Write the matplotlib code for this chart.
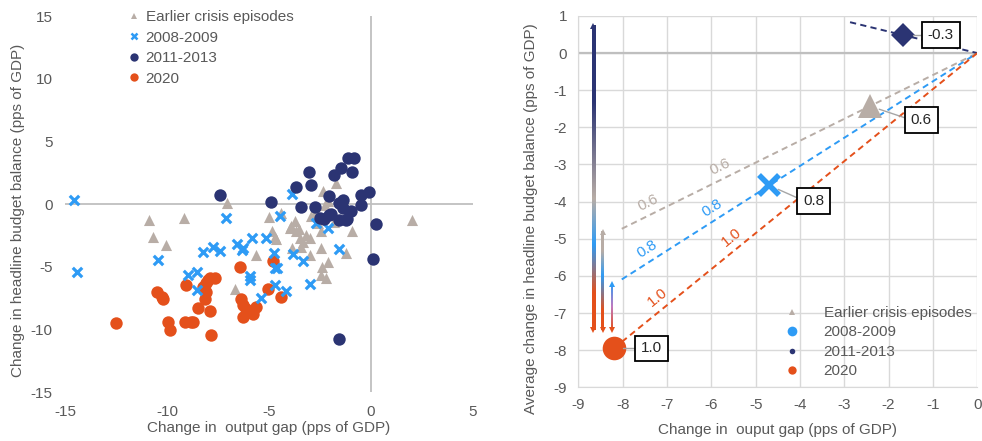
import numpy as np
import matplotlib
matplotlib.use("Agg")
import matplotlib.pyplot as plt
from matplotlib.colors import to_rgb
from matplotlib.lines import Line2D

plt.rcParams['font.family'] = ['Liberation Sans', 'DejaVu Sans']
plt.rcParams['axes.unicode_minus'] = False

# ---------------- left panel: individual country episodes ----------------
series_names = ["Earlier crisis episodes", "2008-2009", "2011-2013", "2020"]

earlier_gap = [-10.9, -10.7, -10.05, -9.17, -7.08, -6.68, -5.62, -5.0, -4.84, -4.72, -4.64,
               -4.4, -3.99, -3.86, -3.75, -3.66, -3.5, -3.34, -3.42, -3.21, -3.01, -3.01,
               -2.93, -2.69, -2.61, -2.44, -2.44, -2.39, -2.44, -2.2, -2.36, -2.28, -2.12,
               -1.74, -1.8, -1.22, -0.93, 2.0, -3.92, -3.52, -2.12]
earlier_bal = [-1.26, -2.59, -3.26, -1.12, 0.08, -6.74, -4.06, -1.07, -2.19, -2.59, -2.78,
               -0.72, -1.93, -3.53, -1.39, -2.19, -2.73, -2.99, -3.4, -2.46, -2.73, -4.06,
               -0.99, -0.59, -1.52, -2.19, -3.53, -5.0, -5.67, -5.94, 1.02, -0.05, 0.21,
               1.68, -1.4, -3.93, -2.19, -1.26, -1.76, -2.03, -4.6]

gfc_gap = [-14.58, -14.41, -10.42, -8.96, -8.55, -8.55, -8.26, -7.74, -7.41, -7.12, -6.56,
           -6.3, -6.27, -5.81, -5.91, -5.91, -5.41, -5.13, -4.77, -4.72, -4.61, -4.72, -4.45,
           -4.15, -3.86, -3.83, -3.34, -3.01, -2.72, -2.12, -1.58]
gfc_bal = [0.35, -5.45, -4.47, -5.67, -5.45, -6.87, -3.8, -3.4, -3.74, -1.12, -3.18,
           -3.66, -3.53, -2.67, -5.72, -6.07, -7.46, -2.67, -3.93, -5.13, -5.08, -6.42, -0.99,
           -6.95, 0.8, -4.01, -4.55, -6.34, -1.52, -1.93, -3.58]

sov_gap = [-7.41, -4.89, -3.66, -3.42, -3.05, -2.93, -2.77, -2.52, -2.04, -2.04, -1.82,
           -1.47, -1.55, -1.38, -1.38, -1.22, -1.14, -0.81, -0.93, -0.98, -0.49, -0.49,
           -0.08, 0.24, 0.08, -1.58, -1.56, -2.3, -1.97, -1.2]
sov_bal = [0.75, 0.13, 1.36, -0.24, 2.57, 1.5, -0.24, -1.12, 0.61, -0.86, 2.35,
           2.89, -1.26, 0.35, -0.32, -1.26, 3.69, 3.69, 2.57, -0.59, 0.75, -0.11,
           0.96, -1.6, -4.39, -10.75, 0.1, -1.23, -0.78, -1.23]

covid_gap = [-12.5, -10.5, -10.26, -10.18, -9.93, -9.85, -9.09, -9.12, -8.71, -8.47, -8.23,
             -8.1, -7.98, -7.87, -7.65, -8.14, -7.9, -7.85, -6.43, -6.35, -6.27, -6.27,
             -6.11, -5.78, -5.62, -5.05, -4.8, -4.4, -8.8, -8.08]
covid_bal = [-9.5, -7.01, -7.41, -7.54, -9.41, -10.08, -6.47, -9.41, -9.41, -8.29, -6.6,
             -7.01, -6.07, -5.94, -5.94, -7.54, -8.56, -10.48, -5.0, -7.54, -8.07, -9.01,
             -8.34, -8.74, -8.21, -6.81, -4.55, -7.41, -9.38, -6.31]

left_xticks = [-15, -10, -5, 0, 5]
left_yticks = [-15, -10, -5, 0, 5, 10, 15]

# ---------------- right panel: averages and semi-elasticities ----------------
avg_gap = [-2.42, -4.69, -1.67, -8.2]          # Earlier, 2008-09, 2011-13, 2020
elasticity = [0.59, 0.76, -0.29, 0.97]
line_start = [-8.02, -8.02, -2.87, -8.2]
inline_label_x = [[-7.31, -5.69], [-7.31, -5.84], [], [-7.04, -5.37]]

range_x = [-8.66, -8.45, -8.25]
range_top = [0.72, -4.83, -6.23]
range_bottom = [-7.47, -7.47, -7.47]

right_xticks = list(range(-9, 1))
right_yticks = list(range(-9, 2))

# ---------------- styling ----------------
TEXT = '#595959'
C_EARLY = '#B8ADA6'
C_GFC = '#2E9BF5'
C_SOV = '#2B3473'
C_COVID = '#E4501B'
colors = [C_EARLY, C_GFC, C_SOV, C_COVID]
FS = 11

fig = plt.figure(figsize=(9.82, 4.41), dpi=100)
ax1 = fig.add_axes([0.0662, 0.111, 0.4155, 0.8526])
ax2 = fig.add_axes([0.5889, 0.1218, 0.4063, 0.842])

# ----- left panel -----
ax1.set_xlim(-15, 5)
ax1.set_ylim(-15, 15)
for s in ax1.spines.values():
    s.set_visible(False)
ax1.axhline(0, color='#BFBFBF', lw=1.3, zorder=1)
ax1.axvline(0, color='#BFBFBF', lw=1.3, zorder=1)
ax1.scatter(earlier_gap, earlier_bal, marker='^', s=64, color=C_EARLY, lw=0, zorder=2)
ax1.scatter(covid_gap, covid_bal, marker='o', s=80, color=C_COVID, lw=0, zorder=3)
ax1.scatter(gfc_gap, gfc_bal, marker='x', s=46, color=C_GFC, linewidths=2.3, zorder=4)
ax1.scatter(sov_gap, sov_bal, marker='o', s=80, color=C_SOV, lw=0, zorder=5)

ax1.set_xticks(left_xticks)
ax1.set_yticks(left_yticks)
ax1.tick_params(length=0, labelsize=FS, labelcolor=TEXT, pad=9)
ax1.set_xlabel("Change in  output gap (pps of GDP)", fontsize=FS, color=TEXT)
ax1.set_ylabel("Change in headline budget balance (pps of GDP)", fontsize=FS, color=TEXT)
ax1.xaxis.set_label_coords(0.5, -0.077)
ax1.yaxis.set_label_coords(-0.098, 0.484)

h_left = [
    Line2D([], [], ls='none', marker='^', ms=5, color=C_EARLY, mew=0),
    Line2D([], [], ls='none', marker='x', ms=5, color=C_GFC, mew=1.8),
    Line2D([], [], ls='none', marker='o', ms=6, color=C_SOV, mew=0),
    Line2D([], [], ls='none', marker='o', ms=6, color=C_COVID, mew=0),
]
leg1 = ax1.legend(h_left, series_names, loc='upper left', bbox_to_anchor=(0.158, 1.016),
                  frameon=False, fontsize=FS, handlelength=0.6, handletextpad=0.45,
                  labelspacing=0.43, borderpad=0, borderaxespad=0)
for t in leg1.get_texts():
    t.set_color(TEXT)

# ----- right panel -----
ax2.set_xticks(right_xticks)
ax2.set_yticks(right_yticks)
ax2.grid(True, color='#D9D9D9', lw=1, zorder=0)
ax2.set_axisbelow(True)
for k, s in ax2.spines.items():
    s.set_visible(k in ('left', 'bottom'))
    s.set_color('#D9D9D9')
ax2.axhline(0, color='#BFBFBF', lw=1.6, zorder=1)
ax2.tick_params(length=0, labelsize=FS, labelcolor=TEXT, pad=8)
ax2.set_xlabel("Change in  ouput gap (pps of GDP)", fontsize=FS, color=TEXT)
ax2.set_ylabel("Average change in headline budget balance (pps of GDP)", fontsize=FS, color=TEXT)
ax2.xaxis.set_label_coords(0.5, -0.096)
ax2.yaxis.set_label_coords(-0.1, 0.455)

# pixel scale of the right panel
fig_w, fig_h = fig.get_size_inches() * fig.dpi
pos = ax2.get_position()
px_per_x = pos.width * fig_w / 9.0
px_per_y = pos.height * fig_h / 10.0

for i in range(4):
    k = elasticity[i]
    xs = np.array([line_start[i], 0.0])
    ax2.plot(xs, k * xs, ls=(0, (3.2, 2.2)), lw=1.4, color=colors[i], zorder=2)
    ang = np.degrees(np.arctan(k * px_per_y / px_per_x))
    for lx in inline_label_x[i]:
        off = 8.5
        dx = -np.sin(np.radians(ang)) * off
        dy = np.cos(np.radians(ang)) * off
        ax2.annotate(f"{k:.1f}", xy=(lx, k * lx), xytext=(dx, dy), textcoords='offset points',
                     rotation=ang, rotation_mode='anchor', ha='center', va='center',
                     fontsize=FS, color=colors[i], zorder=3)

# gradient ranges on the left edge, drawn as thin colour strips
stops = [
    [(0.0, C_SOV), (0.25, C_SOV), (0.57, C_EARLY), (0.72, C_GFC), (0.88, C_COVID), (1.0, C_COVID)],
    [(0.0, C_EARLY), (0.2, C_EARLY), (0.45, C_GFC), (0.8, C_COVID), (1.0, C_COVID)],
    [(0.0, C_GFC), (0.5, '#C07AC0'), (1.0, C_COVID)],
]
strip_px = [3.6, 3.0, 1.6]
for i in range(3):
    n = 200
    fr = np.linspace(0, 1, n)
    pts = [p for p, _ in stops[i]]
    rgbs = np.array([to_rgb(c) for _, c in stops[i]])
    cols = np.stack([np.interp(fr, pts, rgbs[:, j]) for j in range(3)], axis=1)
    img = cols[:, None, :]
    half_w = strip_px[i] / px_per_x / 2
    ax2.imshow(img, extent=[range_x[i] - half_w, range_x[i] + half_w,
                            range_bottom[i], range_top[i]],
               origin='upper', aspect='auto', interpolation='bilinear', zorder=3)
    top_col = stops[i][0][1]
    ax2.plot(range_x[i], range_top[i], marker='^', ms=4, color=top_col, mew=0, zorder=4)
    ax2.plot(range_x[i], range_bottom[i], marker='v', ms=5, color=C_COVID, mew=0, zorder=4)

ax2.set_xlim(-9, 0)
ax2.set_ylim(-9, 1)

# average markers with value boxes
mk = ['^', 'x', 'D', 'o']
ms = [17, 15, 12, 17]
label_offsets = [(37, -10), (32, -11), (27, 0), (27, 0)]
for i in range(4):
    x = avg_gap[i]
    y = elasticity[i] * x
    if mk[i] == 'x':
        ax2.plot(x, y, marker='x', ms=ms[i], mew=4, color=colors[i], ls='none', zorder=5)
    else:
        ax2.plot(x, y, marker=mk[i], ms=ms[i], mew=0, color=colors[i], ls='none', zorder=5)
    ax2.annotate(f"{elasticity[i]:.1f}", xy=(x, y), xytext=label_offsets[i],
                 textcoords='offset points', ha='center', va='center', fontsize=FS,
                 color='#262626', zorder=6,
                 bbox=dict(boxstyle='square,pad=0.38', fc='white', ec='black', lw=1.3),
                 arrowprops=dict(arrowstyle='-', color='#A6A6A6', lw=1, shrinkA=0, shrinkB=7,
                                 connectionstyle='arc,angleA=180,angleB=0,armA=10,armB=0,rad=0'))

h_right = [
    Line2D([], [], ls='none', marker='^', ms=5, color=C_EARLY, mew=0),
    Line2D([], [], ls='none', marker='o', ms=7, color=C_GFC, mew=0),
    Line2D([], [], ls='none', marker='o', ms=4, color=C_SOV, mew=0),
    Line2D([], [], ls='none', marker='o', ms=6, color=C_COVID, mew=0),
]
leg2 = ax2.legend(h_right, series_names, loc='upper left', bbox_to_anchor=(0.5155, 0.219),
                  frameon=False, fontsize=FS, handlelength=1.0, handletextpad=1.6,
                  labelspacing=0.36, borderpad=0, borderaxespad=0)
for t in leg2.get_texts():
    t.set_color(TEXT)

fig.savefig("out.png", dpi=100)
